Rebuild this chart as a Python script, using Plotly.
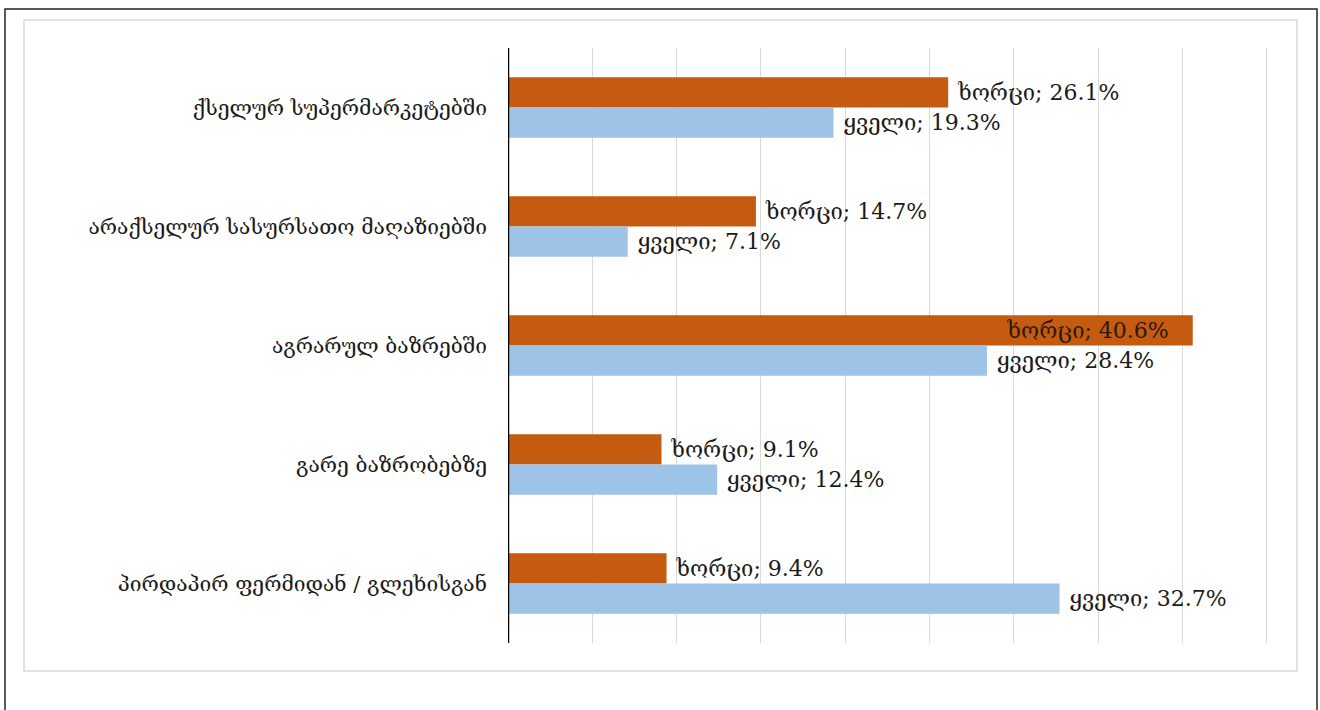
import plotly.graph_objects as go

categories = [
    "ქსელურ სუპერმარკეტებში",
    "არაქსელურ სასურსათო მაღაზიებში",
    "აგრარულ ბაზრებში",
    "გარე ბაზრობებზე",
    "პირდაპირ ფერმიდან / გლეხისგან",
]
meat_name = "ხორცი"
cheese_name = "ყველი"
meat = [26.1, 14.7, 40.6, 9.1, 9.4]
cheese = [19.3, 7.1, 28.4, 12.4, 32.7]

W, H = 1320, 710
L, R, T, B = 508, 48, 48, 67
FONT = "DejaVu Serif, DejaVu Sans, serif"
TXT = "#1a1a1a"
NB = "\u00a0"
LBL = 22

def pos(vals):
    return ["inside" if v > 35 else "outside" for v in vals]

def tmpl(vals, name):
    return [(name + "; %{x:.1f}%" + NB * 3) if p == "inside" else (NB + name + "; %{x:.1f}%")
            for p in pos(vals)]

fig = go.Figure()
fig.add_trace(go.Bar(
    y=categories, x=meat, name=meat_name, orientation="h",
    marker=dict(color="#C55A11", line=dict(width=0)),
    texttemplate=tmpl(meat, meat_name), textposition=pos(meat),
    textfont=dict(family=FONT, size=LBL, color=TXT),
    insidetextfont=dict(family=FONT, size=LBL, color="#2b1a0a"),
    insidetextanchor="end",
    constraintext="none", cliponaxis=False, hoverinfo="skip",
))
fig.add_trace(go.Bar(
    y=categories, x=cheese, name=cheese_name, orientation="h",
    marker=dict(color="#9DC3E6", line=dict(width=0)),
    texttemplate=tmpl(cheese, cheese_name), textposition=pos(cheese),
    textfont=dict(family=FONT, size=LBL, color=TXT),
    constraintext="none", cliponaxis=False, hoverinfo="skip",
))

pw = W - L - R
ph = H - T - B
def px2x(px):
    return (px - L) / pw
def py2y(py):
    return (H - B - py) / ph

shapes = [
    dict(type="rect", xref="paper", yref="paper",
         x0=px2x(24), x1=px2x(1297), y0=py2y(671), y1=py2y(20),
         line=dict(color="#D9D9D9", width=1.5), fillcolor="rgba(0,0,0,0)", layer="below"),
    dict(type="rect", xref="paper", yref="paper",
         x0=px2x(5), x1=px2x(1317), y0=py2y(720), y1=py2y(9),
         line=dict(color="#222222", width=1.5), fillcolor="rgba(0,0,0,0)", layer="above"),
    dict(type="line", xref="x", yref="paper", x0=0, x1=0, y0=0, y1=1,
         line=dict(color="#000000", width=2.5), layer="above"),
]

fig.update_layout(
    width=W, height=H,
    margin=dict(l=L, r=R, t=T, b=B, pad=0),
    paper_bgcolor="white", plot_bgcolor="white",
    barmode="group", bargap=0.49, bargroupgap=0,
    showlegend=False,
    font=dict(family=FONT, size=LBL, color=TXT),
    shapes=shapes,
    xaxis=dict(range=[0, 45.3], dtick=5, tick0=0, showgrid=True, gridcolor="#D9D9D9", gridwidth=1,
               showticklabels=False, zeroline=False, showline=False, ticks="", fixedrange=True),
    yaxis=dict(autorange="reversed", showgrid=False, showline=False, zeroline=False,
               ticks="", ticklabelstandoff=20,
               tickfont=dict(family=FONT, size=21, color=TXT), fixedrange=True),
)

fig.write_html("out.html")
